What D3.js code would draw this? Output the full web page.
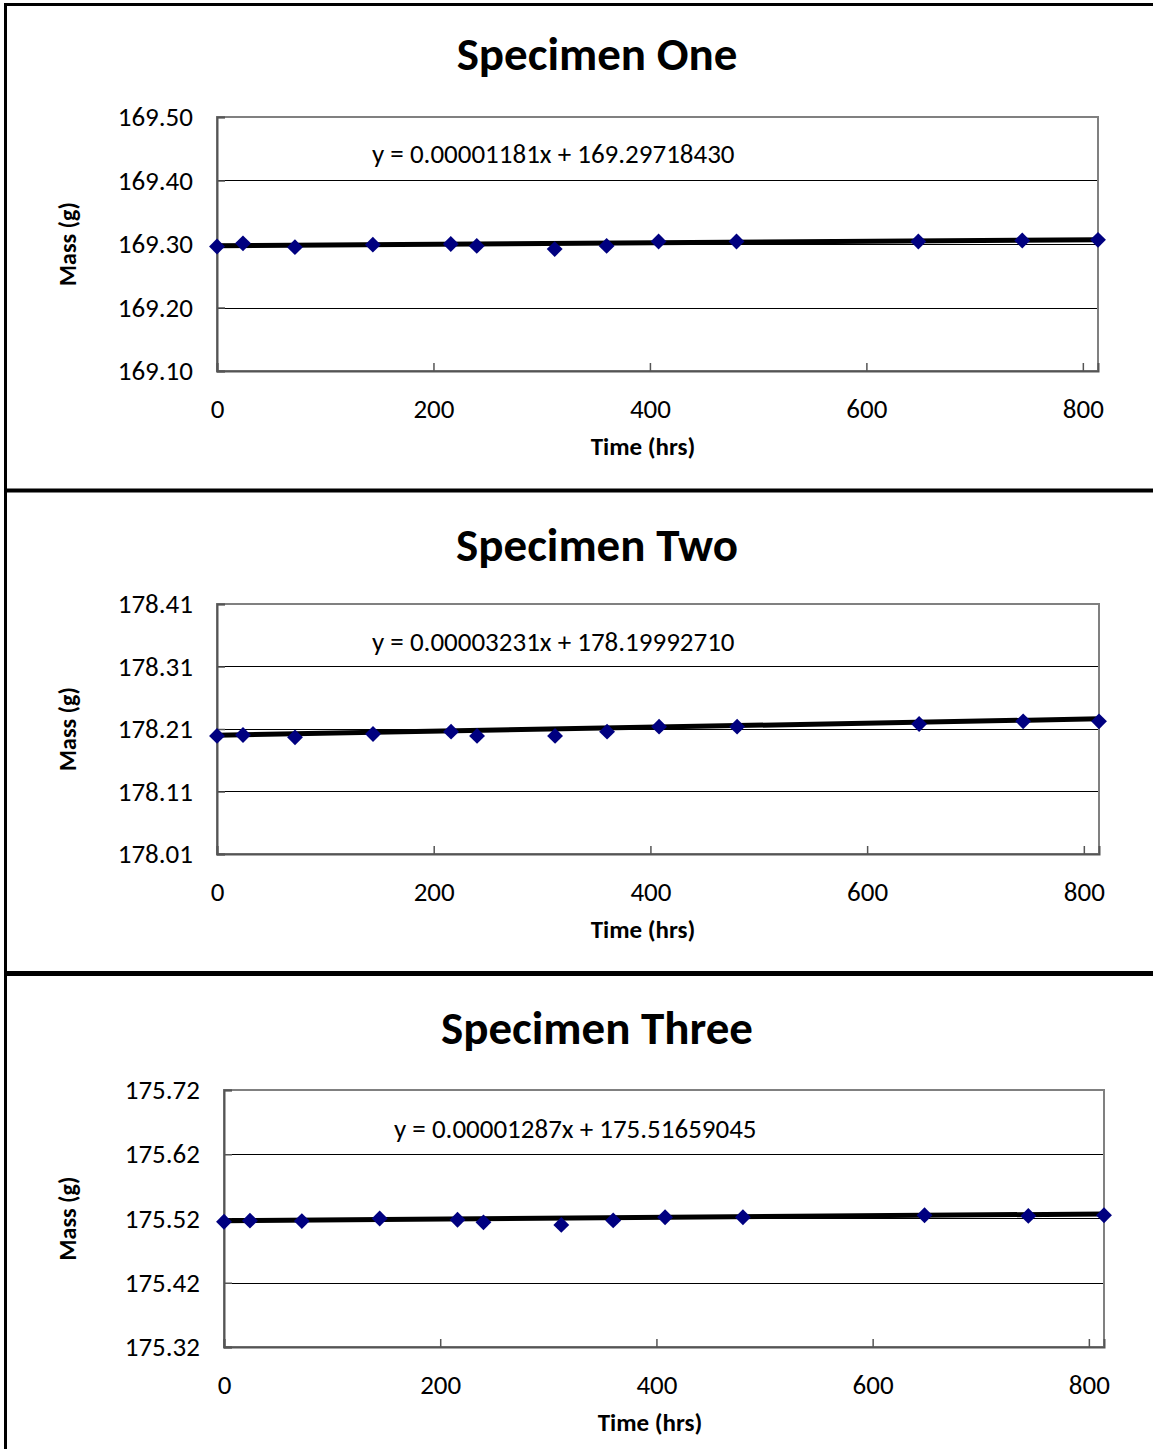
<!DOCTYPE html>
<html>
<head>
<meta charset="utf-8">
<script src="https://cdn.jsdelivr.net/npm/d3@7"></script>
<style>
  body { margin: 0; background: #fff; }
  text { font-family: Calibri, Carlito, "Open Sans", sans-serif; fill: #000; }
</style>
</head>
<body>
<svg id="chart" width="1153" height="1449"></svg>
<script>
// data
var times = [0, 24, 72, 144, 216, 240, 312, 360, 408, 480, 648, 744, 814];
var massOne = [169.296, 169.301, 169.295, 169.299, 169.300, 169.297, 169.292, 169.297, 169.304, 169.304, 169.304, 169.3055, 169.3066];
var massTwo = [178.199, 178.2004, 178.1967, 178.202, 178.2057, 178.199, 178.199, 178.2057, 178.2137, 178.2137, 178.218, 178.2223, 178.2223];
var massThree = [175.515, 175.5166, 175.516, 175.520, 175.518, 175.514, 175.510, 175.517, 175.522, 175.522, 175.525, 175.524, 175.525];

var titles = ["Specimen One", "Specimen Two", "Specimen Three"];
var slopes = [0.00001181, 0.00003231, 0.00001287];
var intercepts = [169.29718430, 178.19992710, 175.51659045];
var equations = ["y = 0.00001181x + 169.29718430", "y = 0.00003231x + 178.19992710", "y = 0.00001287x + 175.51659045"];
var yTicksOne = [169.10, 169.20, 169.30, 169.40, 169.50];
var yTicksTwo = [178.01, 178.11, 178.21, 178.31, 178.41];
var yTicksThree = [175.32, 175.42, 175.52, 175.62, 175.72];
var xTicks = [0, 200, 400, 600, 800];
var xMax = 814;

var svg = d3.select("#chart");
var font = "Calibri, Carlito, 'Open Sans', sans-serif";

// panel layout (positions only)
var panels = [
  { top: 0,   left: 217, right: 1098, plotTop: 117,  plotBottom: 371,  eqX: 372, eqY: 163 },
  { top: 491, left: 217, right: 1099, plotTop: 604,  plotBottom: 854,  eqX: 372, eqY: 651 },
  { top: 974, left: 224, right: 1104, plotTop: 1090, plotBottom: 1347, eqX: 394, eqY: 1138 }
];
var masses = [massOne, massTwo, massThree];
var yTicks = [yTicksOne, yTicksTwo, yTicksThree];

function drawPanel(i) {
  var p = panels[i];
  var g = svg.append("g");
  var ticks = yTicks[i];

  var x = d3.scaleLinear().domain([0, xMax]).range([p.left, p.right]);
  var y = d3.scaleLinear().domain([ticks[0], ticks[ticks.length - 1]]).range([p.plotBottom, p.plotTop]);

  // gridlines
  g.selectAll(".grid")
    .data(ticks.slice(1, -1))
    .enter()
    .append("line")
    .attr("x1", p.left).attr("x2", p.right)
    .attr("y1", function (d) { return Math.round(y(d)) + 0.5; })
    .attr("y2", function (d) { return Math.round(y(d)) + 0.5; })
    .attr("stroke", "#000")
    .attr("stroke-width", 1);

  // plot border
  g.append("rect")
    .attr("x", p.left).attr("y", p.plotTop)
    .attr("width", p.right - p.left).attr("height", p.plotBottom - p.plotTop)
    .attr("fill", "none")
    .attr("stroke", "#808080")
    .attr("stroke-width", 2);

  // axes
  var yAxis = d3.axisLeft(y).tickValues(ticks).tickSize(-8).tickPadding(24)
    .tickFormat(d3.format(".2f"));
  var ya = g.append("g").attr("transform", "translate(" + p.left + ",0)").call(yAxis);
  ya.select(".domain").attr("stroke", "#555").attr("stroke-width", 2);
  ya.selectAll(".tick line").attr("stroke", "#555").attr("stroke-width", 1.5);
  ya.selectAll("text").style("font-size", "27px").attr("fill", "#000")
    .style("font-family", font);

  var xAxis = d3.axisBottom(x).tickValues(xTicks).tickSize(-8).tickPadding(28);
  var xa = g.append("g").attr("transform", "translate(0," + p.plotBottom + ")").call(xAxis);
  xa.select(".domain").attr("stroke", "#555").attr("stroke-width", 2);
  xa.selectAll(".tick line").attr("stroke", "#555").attr("stroke-width", 1.5);
  xa.selectAll("text").style("font-size", "27px").attr("fill", "#000")
    .style("font-family", font);

  // trend line
  g.append("line")
    .attr("x1", x(0)).attr("y1", y(intercepts[i]))
    .attr("x2", x(xMax)).attr("y2", y(intercepts[i] + slopes[i] * xMax))
    .attr("stroke", "#000")
    .attr("stroke-width", 5);

  // markers
  g.selectAll(".pt")
    .data(times.map(function (t, j) { return { t: t, m: masses[i][j] }; }))
    .enter()
    .append("path")
    .attr("d", d3.symbol().type(d3.symbolDiamond2).size(160))
    .attr("transform", function (d) { return "translate(" + x(d.t) + "," + y(d.m) + ")"; })
    .attr("fill", "#000080");

  // texts
  g.append("text")
    .attr("x", 597).attr("y", p.top + 70)
    .attr("text-anchor", "middle")
    .style("font-size", "47px").style("font-weight", "bold")
    .text(titles[i]);

  g.append("text")
    .attr("x", p.eqX).attr("y", p.eqY)
    .style("font-size", "27px")
    .text(equations[i]);

  g.append("text")
    .attr("x", p.left + 426).attr("y", p.plotBottom + 84)
    .attr("text-anchor", "middle")
    .style("font-size", "25px").style("font-weight", "bold")
    .text("Time (hrs)");

  g.append("text")
    .attr("transform", "translate(76," + (p.plotTop + p.plotBottom) / 2 + ") rotate(-90)")
    .attr("text-anchor", "middle")
    .style("font-size", "24px").style("font-weight", "bold")
    .text("Mass (g)");
}

for (var i = 0; i < 3; i++) drawPanel(i);

// frame and separators
svg.append("line").attr("x1", 5.5).attr("x2", 5.5).attr("y1", 3).attr("y2", 1449)
  .attr("stroke", "#000").attr("stroke-width", 3);
svg.append("line").attr("x1", 4).attr("x2", 1153).attr("y1", 4.5).attr("y2", 4.5)
  .attr("stroke", "#000").attr("stroke-width", 3);
svg.append("line").attr("x1", 4).attr("x2", 1153).attr("y1", 490.5).attr("y2", 490.5)
  .attr("stroke", "#000").attr("stroke-width", 4);
svg.append("line").attr("x1", 4).attr("x2", 1153).attr("y1", 973.5).attr("y2", 973.5)
  .attr("stroke", "#000").attr("stroke-width", 5);
</script>
</body>
</html>
